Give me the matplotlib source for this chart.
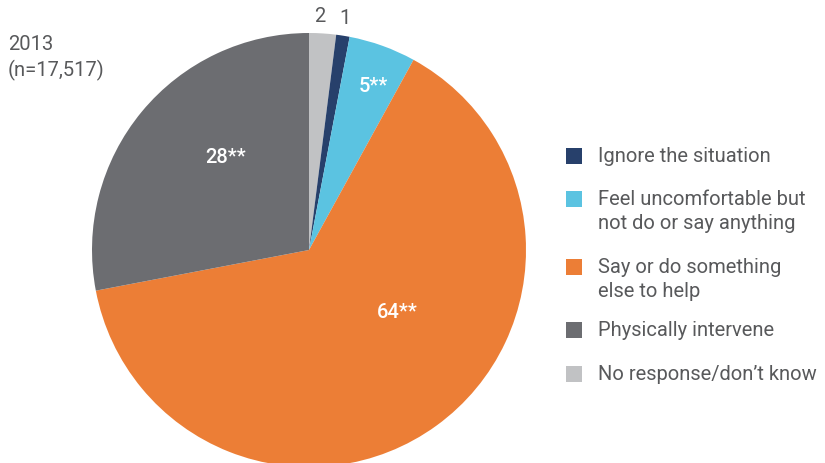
import matplotlib
matplotlib.use("Agg")
import matplotlib.pyplot as plt
from matplotlib.patches import Rectangle

# slices in drawing order (clockwise from 12 o'clock)
slice_names = ["No response/don\u2019t know", "Ignore the situation",
               "Feel uncomfortable but\nnot do or say anything",
               "Say or do something\nelse to help", "Physically intervene"]
slice_values = [2, 1, 5, 64, 28]
slice_colors = ["#C1C2C4", "#27406B", "#5BC3E1", "#EC7E36", "#6C6D71"]
slice_labels = ["2", "1", "5**", "64**", "28**"]

# legend order
legend_order = [1, 2, 3, 4, 0]

title_text = "2013\n(n=17,517)"

W, H = 825, 464
plt.rcParams["font.family"] = ["Roboto", "DejaVu Sans"]
txt_col = "#58595B"
fs = 14.5

fig = plt.figure(figsize=(W / 100, H / 100), dpi=100)

# pie in pixel coordinates (y up)
pax = fig.add_axes([0, 0, 1, 1])
pax.pie(slice_values, colors=slice_colors, startangle=90, counterclock=False,
        center=(309, H - 251), radius=217, frame=False,
        wedgeprops=dict(linewidth=0))
pax.set_xlim(0, W)
pax.set_ylim(0, H)
pax.set_aspect("auto")
pax.axis("off")

# overlay axes for text, pixel coords with y down
ax = fig.add_axes([0, 0, 1, 1])
ax.set_xlim(0, W)
ax.set_ylim(H, 0)
ax.axis("off")
ax.patch.set_alpha(0)

# value labels
label_pos = {"2": (320, 17, txt_col), "1": (345, 19, txt_col),
             "5**": (373, 87, "white"), "64**": (397, 313, "white"),
             "28**": (226, 158, "white")}
for lab in slice_labels:
    x, y, c = label_pos[lab]
    ax.text(x, y, lab, color=c, fontsize=fs, ha="center", va="center",
            fontweight="medium" if c == "white" else "normal")

ax.text(8, 45, "2013", color=txt_col, fontsize=fs, ha="left", va="center")
ax.text(8, 70, "(n=17,517)", color=txt_col, fontsize=fs, ha="left", va="center")

# legend drawn by hand
row_y = [157, 200, 268, 331, 375]
for i, y in zip(legend_order, row_y):
    ax.add_patch(Rectangle((566, y - 8), 16, 16, color=slice_colors[i], lw=0))
    for k, ln in enumerate(slice_names[i].split("\n")):
        ax.text(598, y + 24 * k, ln, color=txt_col, fontsize=fs,
                ha="left", va="center")

fig.savefig("out.png", dpi=100)
